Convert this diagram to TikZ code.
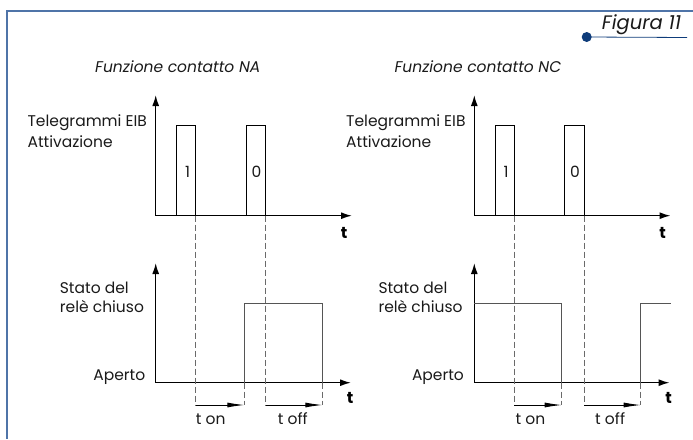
\documentclass[tikz,border=0pt]{standalone}
\usepackage{fontspec}
\setmainfont{Poppins}
\usetikzlibrary{arrows.meta}
\definecolor{framecol}{HTML}{4F74A8}
\definecolor{navy}{HTML}{0E3C7A}
\definecolor{txt}{HTML}{1A1A1A}
\definecolor{sig}{HTML}{555555}
\definecolor{dsh}{HTML}{6A6A6A}
\tikzset{
  axis/.style={line width=1.5pt, black, -{Latex[length=11pt,width=7pt]}},
  pulse/.style={line width=0.9pt, black},
  relay/.style={line width=0.9pt, sig},
  guide/.style={line width=0.9pt, dsh, dash pattern=on 6pt off 3pt},
  tarrow/.style={line width=0.9pt, black, -{Latex[length=17pt,width=5pt]}},
  lbl/.style={font=\fontsize{15.5}{17}\selectfont, text=txt, inner sep=0pt},
  ttl/.style={font=\fontsize{15.5}{17}\selectfont\itshape, text=txt, inner sep=0pt},
  tlab/.style={font=\fontsize{16}{17}\selectfont\bfseries, text=black, inner sep=0pt},
}
\begin{document}
\begin{tikzpicture}[x=1pt,y=-1pt]
\useasboundingbox (0,0) rectangle (693,439);
% frame
\coordinate (fTR) at (693,10.7);
\coordinate (fTL) at (7.3,10.7);
\coordinate (fBL) at (7.3,439);
\draw[framecol, line width=2pt] (fTR) -- (fTL) -- (fBL);
% figure label
\node[circle, fill=navy, minimum size=10pt, inner sep=0pt] (dot) at (586.7,37) {};
\coordinate (ulEnd) at (687,37.5);
\draw[navy, line width=0.8pt] (dot.center) -- (ulEnd);
\node[ttl, font=\fontsize{19.5}{21}\selectfont\itshape] (fig) at (641.5,24.5) {Figura 11};

\foreach \dx/\side in {0/L, 318.6/R} {
  \begin{scope}[xshift=\dx]
  \coordinate (\side uo) at (155.7,215.7);
  \coordinate (\side uy) at (155.7,95);
  \coordinate (\side ux) at (352,215.7);
  \coordinate (\side lo) at (155.7,382.7);
  \coordinate (\side ly) at (155.7,263);
  \coordinate (\side lx) at (351,382.7);
  \draw[axis] (\side uo) -- (\side uy);
  \draw[axis] (\side uo) -- (\side ux);
  \draw[axis] (\side lo) -- (\side ly);
  \draw[axis] (\side lo) -- (\side lx);
  \node[tlab] (\side ut) at (344,233) {t};
  \node[tlab] (\side lt) at (350,398) {t};
  % pulses
  \coordinate (\side p1a) at (176.7,215.7);
  \coordinate (\side p1b) at (176.7,125);
  \coordinate (\side p1c) at (195.7,125);
  \coordinate (\side p1d) at (195.7,215.7);
  \coordinate (\side p0a) at (246,215.7);
  \coordinate (\side p0b) at (246,125);
  \coordinate (\side p0c) at (265.7,125);
  \coordinate (\side p0d) at (265.7,215.7);
  \draw[pulse] (\side p1a) -- (\side p1b) -- (\side p1c) -- (\side p1d);
  \draw[pulse] (\side p0a) -- (\side p0b) -- (\side p0c) -- (\side p0d);
  \node[lbl] (\side one) at (187.5,172) {1};
  \node[lbl] (\side zero) at (256.5,172) {0};
  % guides
  \coordinate (\side g1) at (195.7,405);
  \coordinate (\side g0) at (265.7,405);
  \draw[guide] (\side p1d) -- (\side g1);
  \draw[guide] (\side p0d) -- (\side g0);
  % labels
  \node[lbl, anchor=west] (\side tel) at (27.4,123) {Telegrammi EIB};
  \node[lbl, anchor=west] (\side att) at (27.4,141.7) {Attivazione};
  \node[lbl, anchor=west] (\side sta) at (59.7,288) {Stato del};
  \node[lbl, anchor=west] (\side rel) at (59.7,307) {relè chiuso};
  \node[lbl, anchor=east] (\side ape) at (145.5,377) {Aperto};
  \end{scope}
}
% left relay (NA)
\coordinate (Lr1) at (244.3,382.7);
\coordinate (Lr2) at (244.3,303.3);
\coordinate (Lr3) at (322.3,303.3);
\coordinate (Lr4) at (322.3,382.7);
\draw[relay] (Lr1) -- (Lr2) -- (Lr3) -- (Lr4);
\coordinate (Le1) at (244.3,405);
\coordinate (Le2) at (322.3,405);
\draw[guide] (Lr1) -- (Le1);
\draw[guide] (Lr4) -- (Le2);
\draw[tarrow] (Lg1) -- (Le1);
\draw[tarrow] (Lg0) -- (Le2);
\node[lbl, anchor=base west] (Lton) at (195.7,424) {t on};
\node[lbl, anchor=base west] (Ltoff) at (277.7,424) {t off};
% right relay (NC)
\coordinate (Rr1) at (474.3,303.3);
\coordinate (Rr2) at (561.7,303.3);
\coordinate (Rr3) at (561.7,382.7);
\coordinate (Rr4) at (640.7,382.7);
\coordinate (Rr5) at (640.7,303.3);
\coordinate (Rr6) at (670.7,303.3);
\draw[relay] (Rr1) -- (Rr2) -- (Rr3);
\draw[relay] (Rr4) -- (Rr5) -- (Rr6);
\coordinate (Re1) at (561.7,405);
\coordinate (Re2) at (640.7,405);
\draw[guide] (Rr3) -- (Re1);
\draw[guide] (Rr4) -- (Re2);
\draw[tarrow] (Rg1) -- (Re1);
\draw[tarrow] (Rg0) -- (Re2);
\node[lbl, anchor=base west] (Rton) at (515.5,424) {t on};
\node[lbl, anchor=base west] (Rtoff) at (595,424) {t off};
% titles
\node[ttl] (tNA) at (177.8,66.7) {Funzione contatto NA};
\node[ttl] (tNC) at (478,66.7) {Funzione contatto NC};
\end{tikzpicture}
\end{document}
